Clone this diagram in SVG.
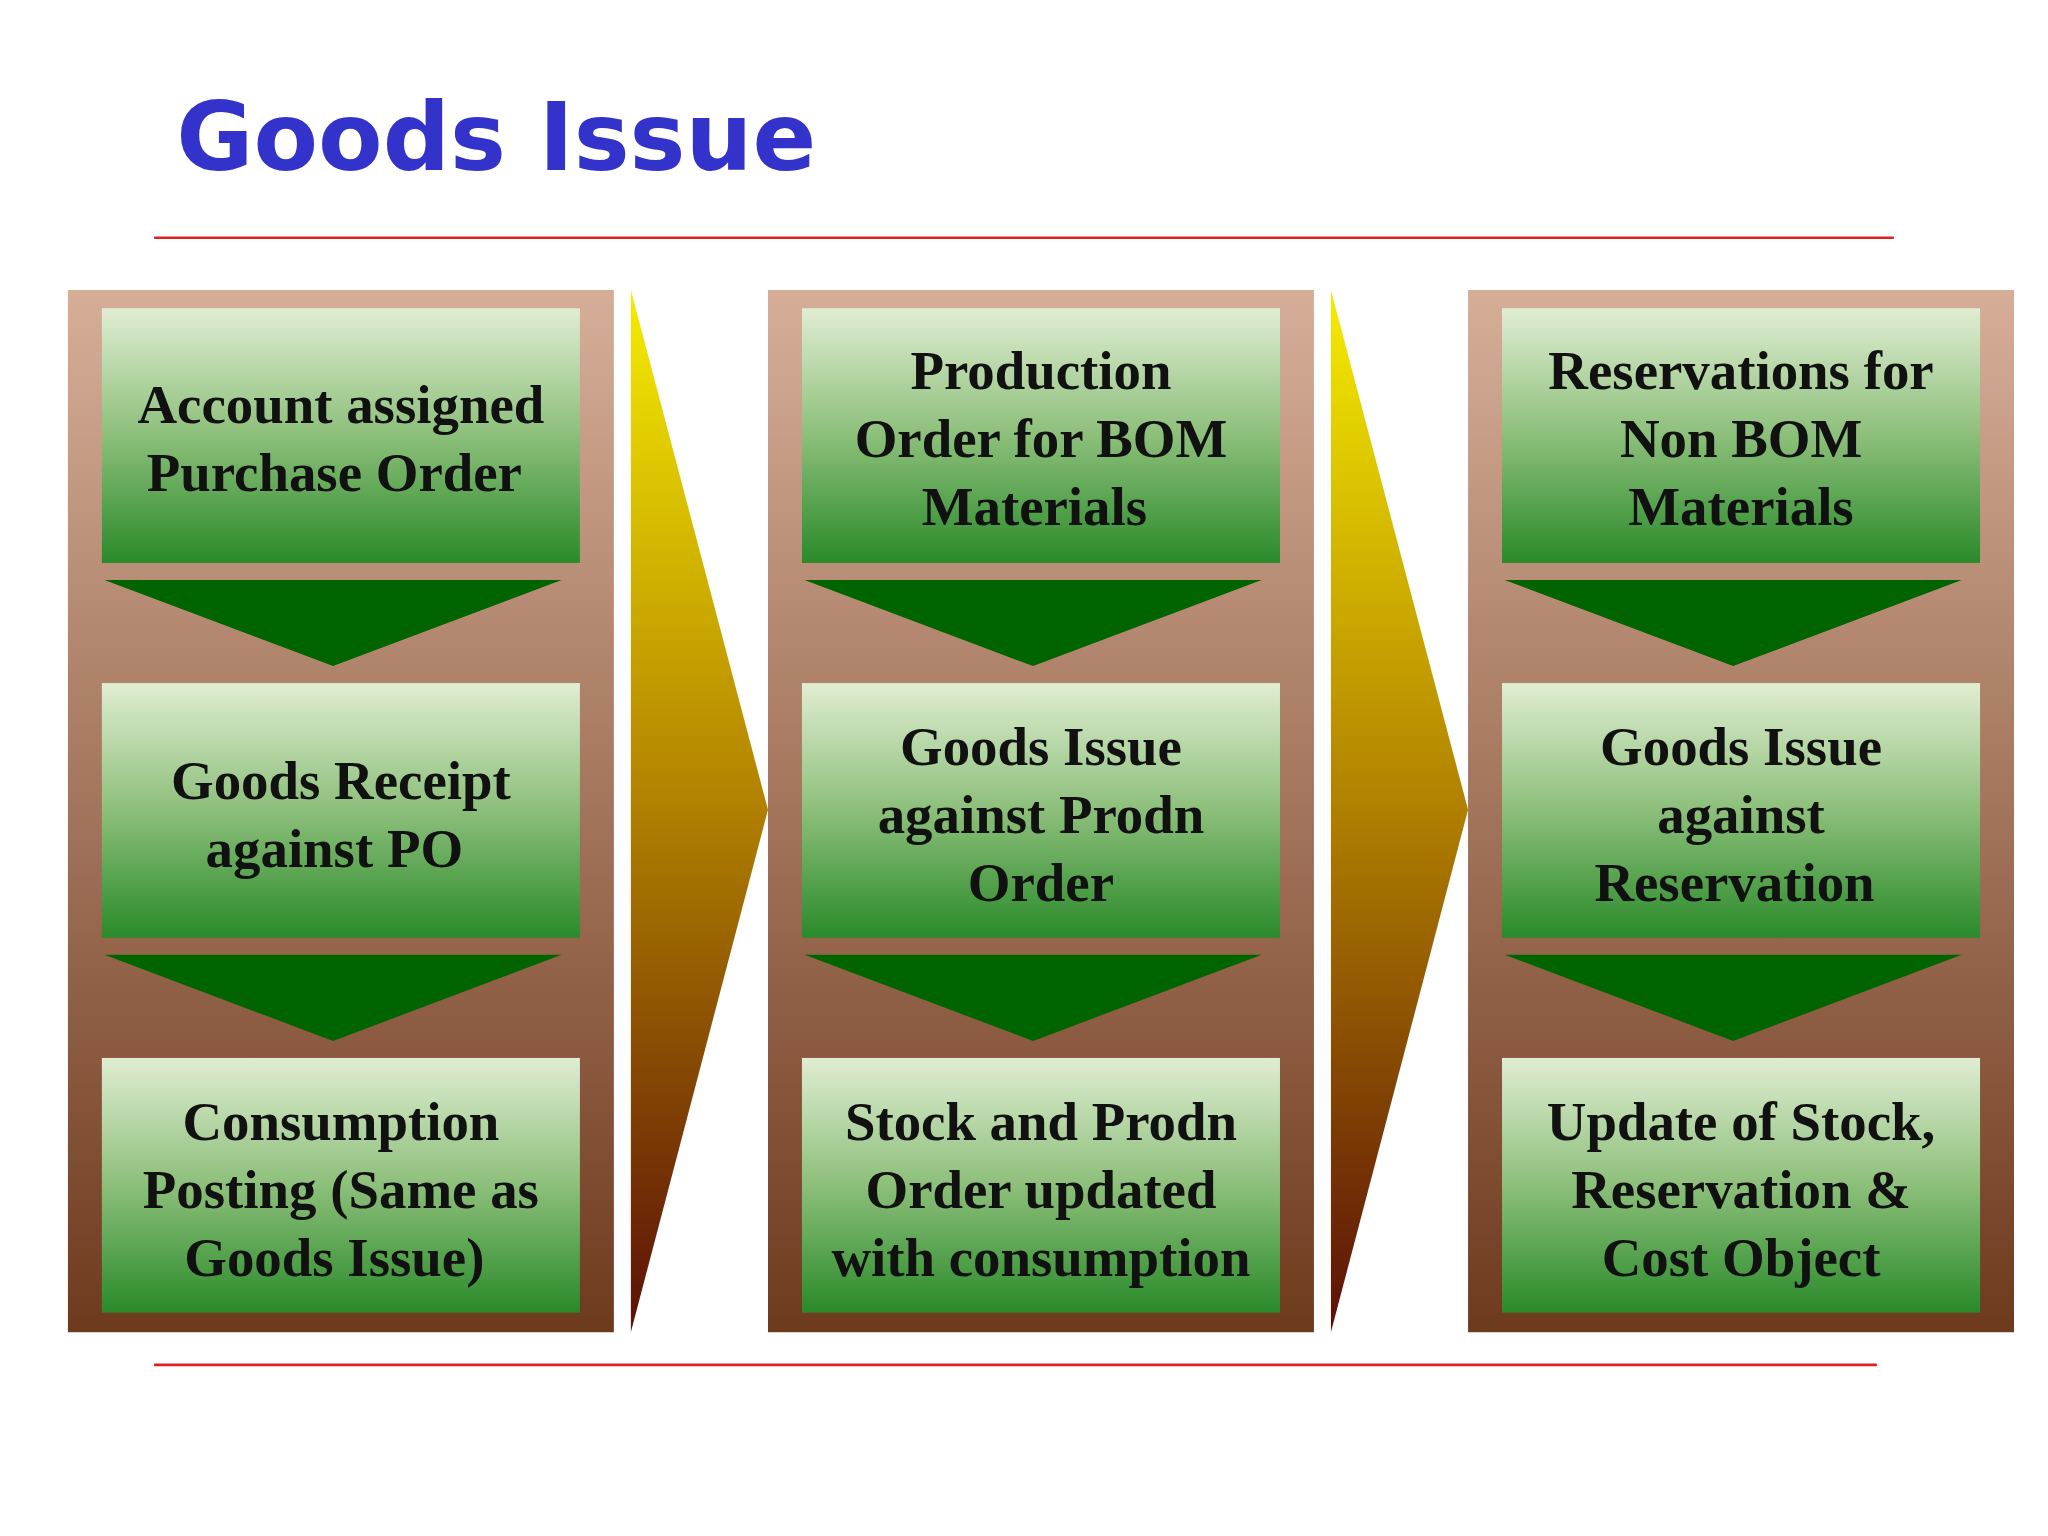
<svg xmlns="http://www.w3.org/2000/svg" width="2048" height="1536" viewBox="0 0 2048 1536">
<defs>
<linearGradient id="panel" x1="0" y1="0" x2="0" y2="1"><stop offset="0" stop-color="#D6AE98"/><stop offset="1" stop-color="#6E3A1E"/></linearGradient>
<linearGradient id="box" x1="0" y1="0" x2="0" y2="1"><stop offset="0" stop-color="#E0EDD2"/><stop offset="0.5" stop-color="#8CBF7A"/><stop offset="1" stop-color="#2A8A2A"/></linearGradient>
<linearGradient id="arr" x1="0" y1="0" x2="0" y2="1"><stop offset="0" stop-color="#F5EC00"/><stop offset="0.5" stop-color="#B07F00"/><stop offset="1" stop-color="#5A1008"/></linearGradient>
<style>
.p{fill:url(#panel)}.b{fill:url(#box)}.t{fill:#006400}.a{fill:url(#arr)}
.x{font-family:"Liberation Serif",serif;font-weight:bold;font-size:42px;fill:#111;text-anchor:middle}
</style>
</defs>
<rect width="2048" height="1536" fill="#fff"/>
<g transform="scale(1.3061)">
<text x="135" y="130" font-family="DejaVu Sans" font-weight="bold" font-size="72" fill="#3333CC">Goods Issue</text>
<g id="lines"><line x1="118" y1="182" x2="1450" y2="182" stroke="#E02020" stroke-width="2"/><line x1="118" y1="1045" x2="1437" y2="1045" stroke="#E02020" stroke-width="2"/></g>
<g id="col1">
<rect class="p" x="52" y="222" width="418" height="798"/>
<rect class="b" x="78" y="236" width="366" height="195"/><polygon class="t" points="80,444 430,444 255,510"/>
<rect class="b" x="78" y="523" width="366" height="195"/><polygon class="t" points="80,731 430,731 255,797"/>
<rect class="b" x="78" y="810" width="366" height="195"/>
<text class="x" x="261"><tspan x="261" y="324">Account assigned</tspan><tspan x="256" y="376">Purchase Order</tspan></text>
<text class="x"><tspan x="261" y="612">Goods Receipt</tspan><tspan x="256" y="664">against PO</tspan></text>
<text class="x"><tspan x="261" y="873">Consumption</tspan><tspan x="261" y="925">Posting (Same as</tspan><tspan x="256" y="977">Goods Issue)</tspan></text>
</g>
<g id="col2">
<rect class="p" x="588" y="222" width="418" height="798"/>
<rect class="b" x="614" y="236" width="366" height="195"/><polygon class="t" points="616,444 966,444 791,510"/>
<rect class="b" x="614" y="523" width="366" height="195"/><polygon class="t" points="616,731 966,731 791,797"/>
<rect class="b" x="614" y="810" width="366" height="195"/>
<text class="x"><tspan x="797" y="298">Production</tspan><tspan x="797" y="350">Order for BOM</tspan><tspan x="792" y="402">Materials</tspan></text>
<text class="x"><tspan x="797" y="586">Goods Issue</tspan><tspan x="797" y="638">against Prodn</tspan><tspan x="797" y="690">Order</tspan></text>
<text class="x"><tspan x="797" y="873">Stock and Prodn</tspan><tspan x="797" y="925">Order updated</tspan><tspan x="797" y="977">with consumption</tspan></text>
</g>
<g id="col3">
<rect class="p" x="1124" y="222" width="418" height="798"/>
<rect class="b" x="1150" y="236" width="366" height="195"/><polygon class="t" points="1152,444 1502,444 1327,510"/>
<rect class="b" x="1150" y="523" width="366" height="195"/><polygon class="t" points="1152,731 1502,731 1327,797"/>
<rect class="b" x="1150" y="810" width="366" height="195"/>
<text class="x"><tspan x="1333" y="298">Reservations for</tspan><tspan x="1333" y="350">Non BOM</tspan><tspan x="1333" y="402">Materials</tspan></text>
<text class="x"><tspan x="1333" y="586">Goods Issue</tspan><tspan x="1333" y="638">against</tspan><tspan x="1328" y="690">Reservation</tspan></text>
<text class="x"><tspan x="1333" y="873">Update of Stock,</tspan><tspan x="1333" y="925">Reservation &amp;</tspan><tspan x="1333" y="977">Cost Object</tspan></text>
</g>
<g id="connectors">
<polygon class="a" points="483,222 588,620 483,1020"/>
<polygon class="a" points="1019,222 1124,620 1019,1020"/>
</g>
</g>
</svg>
